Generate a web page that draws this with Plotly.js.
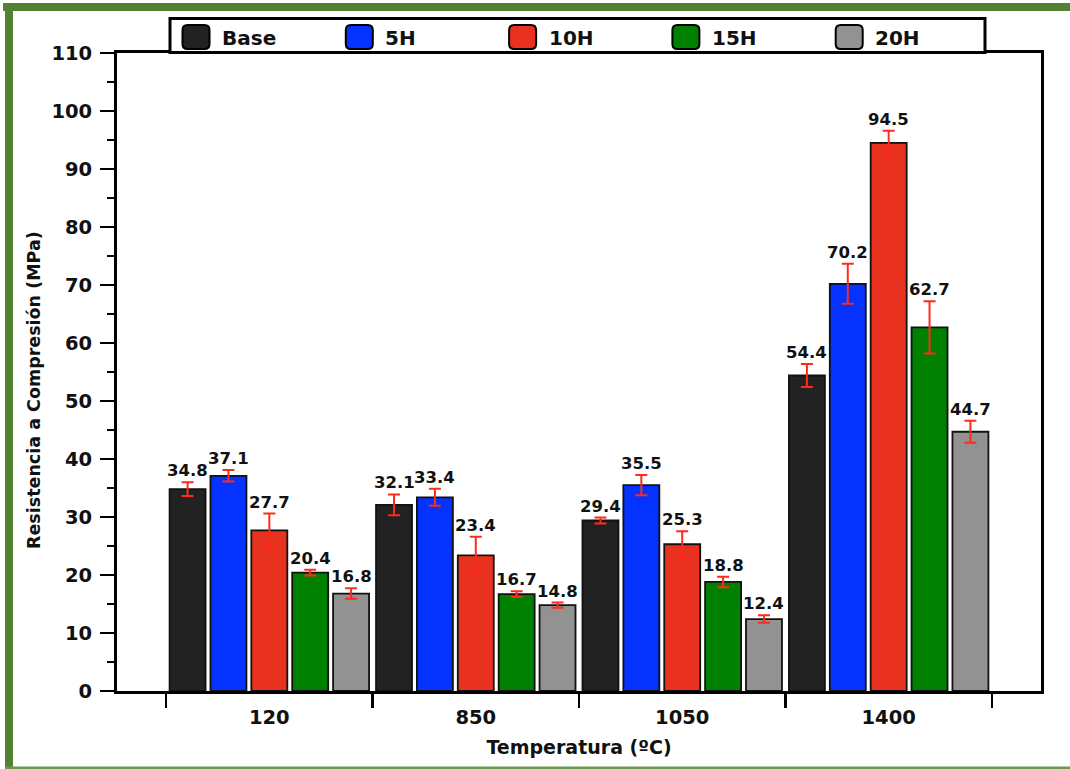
<!DOCTYPE html>
<html>
<head>
<meta charset="utf-8">
<script src="https://cdn.plot.ly/plotly-3.0.1.min.js"></script>
<style>
  html, body { margin: 0; padding: 0; background: #ffffff; }
  #chart { width: 1070px; height: 769px; }
</style>
</head>
<body>
<div id="chart"></div>
<script>
// Compressive strength by firing temperature and additive series
const categories = ['120', '850', '1050', '1400'];
const seriesNames = ['Base', '5H', '10H', '15H', '20H'];

const baseVals = [34.8, 32.1, 29.4, 54.4];
const h5Vals   = [37.1, 33.4, 35.5, 70.2];
const h10Vals  = [27.7, 23.4, 25.3, 94.5];
const h15Vals  = [20.4, 16.7, 18.8, 62.7];
const h20Vals  = [16.8, 14.8, 12.4, 44.7];

const baseErr = [1.2, 1.8, 0.5, 2.0];
const h5Err   = [1.0, 1.45, 1.75, 3.45];
const h10Err  = [2.9, 3.2, 2.25, 2.1];
const h15Err  = [0.5, 0.5, 0.9, 4.5];
const h20Err  = [0.9, 0.45, 0.65, 1.9];

const seriesVals = [baseVals, h5Vals, h10Vals, h15Vals, h20Vals];
const seriesErr = [baseErr, h5Err, h10Err, h15Err, h20Err];
const seriesColors = ['#222222', '#0433ff', '#e8321f', '#008000', '#929292'];

const W = 1070, H = 769;
const M = { l: 117, r: 29, t: 53, b: 78 };
const plotW = W - M.l - M.r, plotH = H - M.t - M.b;
const px = v => (v - M.l) / plotW;        // pixel -> paper x
const py = v => (H - M.b - v) / plotH;    // pixel -> paper y

const FONT = 'DejaVu Sans, Arial, sans-serif';
const bargap = 0.01;

const traces = seriesNames.map((name, j) => ({
  type: 'bar',
  name: name,
  x: categories,
  y: seriesVals[j],
  marker: { color: seriesColors[j], line: { color: '#111111', width: 1.8 } },
  error_y: { type: 'data', array: seriesErr[j], visible: true,
             color: '#ff2a1a', thickness: 2, width: 6 },
  showlegend: false,
  hoverinfo: 'x+y+name'
}));

// value labels above each error bar
const annotations = [];
const slot = (1 - bargap) / seriesNames.length;
seriesNames.forEach((name, j) => {
  categories.forEach((c, i) => {
    const v = seriesVals[j][i];
    annotations.push({
      xref: 'x', yref: 'y',
      x: i + (j - (seriesNames.length - 1) / 2) * slot,
      y: v + seriesErr[j][i],
      text: v.toFixed(1),
      showarrow: false,
      yanchor: 'bottom',
      yshift: 0,
      font: { family: FONT, size: 16.5, weight: 700, color: '#111111' }
    });
  });
});

// y-axis title
annotations.push({
  xref: 'paper', yref: 'paper',
  x: px(34), y: py(390),
  text: 'Resistencia a Compresión (MPa)',
  textangle: -90, showarrow: false,
  xanchor: 'center', yanchor: 'middle',
  font: { family: FONT, size: 17.5, weight: 700, color: '#111111' }
});

const shapes = [];
const green = '#548235';
// outer green frame
shapes.push({ type: 'rect', xref: 'paper', yref: 'paper', layer: 'below',
  x0: px(3), x1: px(1075), y0: py(3), y1: py(11),
  fillcolor: green, line: { width: 0 } });
shapes.push({ type: 'rect', xref: 'paper', yref: 'paper', layer: 'below',
  x0: px(5), x1: px(13), y0: py(3), y1: py(769),
  fillcolor: green, line: { width: 0 } });
shapes.push({ type: 'rect', xref: 'paper', yref: 'paper', layer: 'below',
  x0: px(5), x1: px(1075), y0: py(766.5), y1: py(769),
  fillcolor: '#6a9a4c', line: { width: 0 } });

// legend box
shapes.push({ type: 'rect', xref: 'paper', yref: 'paper',
  x0: px(170), x1: px(985), y0: py(18.5), y1: py(52.5),
  fillcolor: '#ffffff', line: { color: '#000000', width: 3 } });

// legend swatches and labels
const swatchPath = 'M -8.5,-12 H 8.5 Q 13.5,-12 13.5,-7 V 7 Q 13.5,12 8.5,12 ' +
                   'H -8.5 Q -13.5,12 -13.5,7 V -7 Q -13.5,-12 -8.5,-12 Z';
seriesNames.forEach((name, j) => {
  const cx = 196 + j * 163.3;
  shapes.push({ type: 'path', xref: 'paper', yref: 'paper',
    xsizemode: 'pixel', ysizemode: 'pixel',
    xanchor: px(cx), yanchor: py(37),
    path: swatchPath,
    fillcolor: seriesColors[j], line: { color: '#000000', width: 2 } });
  annotations.push({
    xref: 'paper', yref: 'paper', x: px(cx + 24), y: py(37.5),
    xanchor: 'left', yanchor: 'middle', showarrow: false,
    text: name,
    font: { family: FONT, size: 20, weight: 700, color: '#111111' }
  });
});

const layout = {
  width: W, height: H,
  margin: M,
  paper_bgcolor: '#ffffff',
  plot_bgcolor: '#ffffff',
  barmode: 'group',
  bargap: bargap,
  bargroupgap: 0.12,
  showlegend: false,
  font: { family: FONT, color: '#111111' },
  xaxis: {
    type: 'category',
    categoryorder: 'array', categoryarray: categories,
    range: [-0.5 - 49 / 206, categories.length - 0.5 + 49 / 206],
    tickson: 'boundaries',
    ticks: 'outside', ticklen: 14, tickwidth: 2.5, tickcolor: '#000000',
    showline: true, linewidth: 3, linecolor: '#000000', mirror: true,
    showgrid: false, zeroline: false,
    ticklabelstandoff: 7,
    tickfont: { family: FONT, size: 19.5, weight: 700, color: '#111111' },
    title: { text: 'Temperatura (ºC)', standoff: 13,
             font: { family: FONT, size: 19, weight: 700, color: '#111111' } }
  },
  yaxis: {
    range: [0, 110], dtick: 10, tick0: 0,
    ticks: 'outside', ticklen: 14, tickwidth: 2.5, tickcolor: '#000000',
    minor: { dtick: 5, ticks: 'outside', ticklen: 7, tickwidth: 2.5, tickcolor: '#000000' },
    showline: true, linewidth: 3, linecolor: '#000000', mirror: true,
    showgrid: false, zeroline: false,
    ticklabelstandoff: 4,
    tickfont: { family: FONT, size: 19.5, weight: 700, color: '#111111' }
  },
  shapes: shapes,
  annotations: annotations
};

Plotly.newPlot('chart', traces, layout, { displayModeBar: false, staticPlot: true });
</script>
</body>
</html>
